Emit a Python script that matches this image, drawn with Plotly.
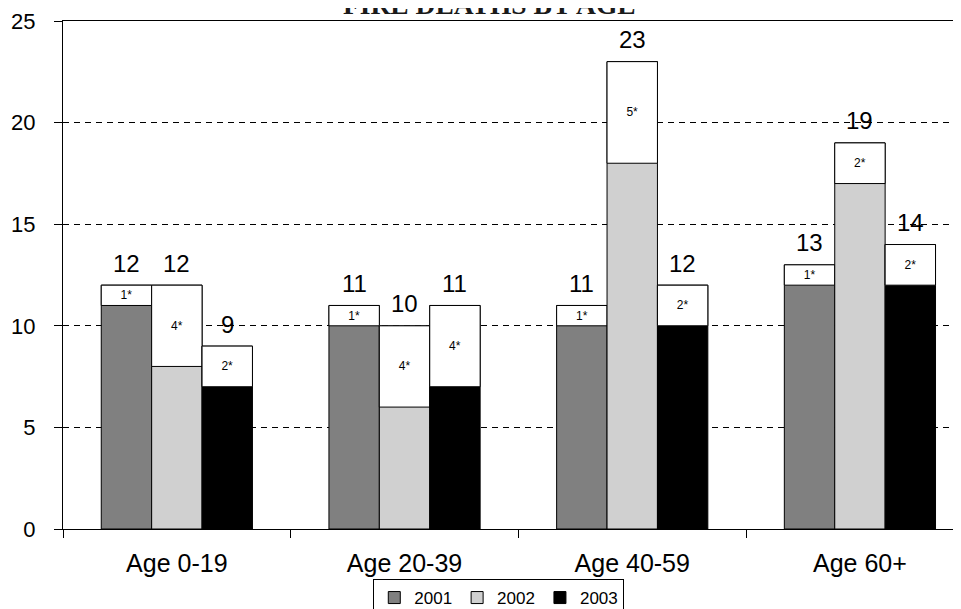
import plotly.graph_objects as go

categories = ["Age 0-19", "Age 20-39", "Age 40-59", "Age 60+"]
years = ["2001", "2002", "2003"]
totals_2001 = [12, 11, 11, 13]
totals_2002 = [12, 10, 23, 19]
totals_2003 = [9, 11, 12, 14]
star_2001 = [1, 1, 1, 1]
star_2002 = [4, 4, 5, 2]
star_2003 = [2, 4, 2, 2]

totals = [totals_2001, totals_2002, totals_2003]
stars = [star_2001, star_2002, star_2003]
colors = ["#808080", "#D0D0D0", "#000000"]

FONT = "Liberation Sans, Arial, sans-serif"
BARGAP = 0.336

fig = go.Figure()
for yr, tot, st, col in zip(years, totals, stars, colors):
    fig.add_trace(go.Bar(
        x=categories, y=tot, name=yr, offsetgroup=yr, legendgroup=yr,
        marker=dict(color=col, line=dict(color="#000000", width=1)),
        hoverinfo="skip",
    ))
    fig.add_trace(go.Bar(
        x=categories, y=st, base=[t - s for t, s in zip(tot, st)],
        offsetgroup=yr, legendgroup=yr, showlegend=False,
        marker=dict(color="#FFFFFF", line=dict(color="#000000", width=1)),
        text=[f"{s}*" for s in st], textposition="inside",
        insidetextanchor="middle", textangle=0, constraintext="none",
        textfont=dict(family=FONT, size=12, color="#000000"),
        hoverinfo="skip",
    ))

# total labels above each bar
bw = (1 - BARGAP) / len(years)
annotations = []
for j, tot in enumerate(totals):
    off = (j - (len(years) - 1) / 2) * bw
    for i, v in enumerate(tot):
        annotations.append(dict(
            x=i + off, y=v, xref="x", yref="y", text=str(v), showarrow=False,
            yanchor="middle", yshift=22,
            font=dict(family=FONT, size=24, color="#000000"),
        ))

annotations.append(dict(
    text="<b>FIRE DEATHS BY AGE</b>", xref="paper", yref="paper",
    x=0.4702, xanchor="center", y=1, yanchor="middle", yshift=17,
    showarrow=False,
    font=dict(family="Liberation Serif, Times New Roman, serif", size=27.5, color="#1A1A1A"),
))

fig.update_layout(
    width=961, height=609,
    margin=dict(l=55, r=0, t=12.5, b=87.5, autoexpand=False),
    paper_bgcolor="#FFFFFF", plot_bgcolor="#FFFFFF",
    barmode="group", bargap=BARGAP, bargroupgap=0,
    annotations=annotations,
    legend=dict(
        orientation="h", x=0.481, xanchor="center",
        yref="container", y=(609 - 571) / 609, yanchor="top",
        bordercolor="#000000", borderwidth=1, bgcolor="#FFFFFF",
        font=dict(family=FONT, size=17, color="#000000"),
        itemwidth=30, traceorder="normal",
    ),
    xaxis=dict(
        type="category", range=[-0.5, 3.479], showline=True, linecolor="#000000",
        linewidth=1, mirror=True, ticks="outside", tickson="boundaries", ticklen=8,
        tickcolor="#000000", showgrid=False, ticklabelstandoff=12, automargin=False,
        tickfont=dict(family=FONT, size=25, color="#000000"),
    ),
    yaxis=dict(
        range=[0, 25], tick0=0, dtick=5, showline=True, linecolor="#000000",
        linewidth=1, ticks="outside", ticklen=8, tickcolor="#000000",
        showgrid=True, gridcolor="#000000", gridwidth=1, griddash="6px,5px",
        zeroline=False, ticklabelstandoff=14, automargin=False,
        tickfont=dict(family=FONT, size=22, color="#000000"),
    ),
)

fig.write_html("out.html")
